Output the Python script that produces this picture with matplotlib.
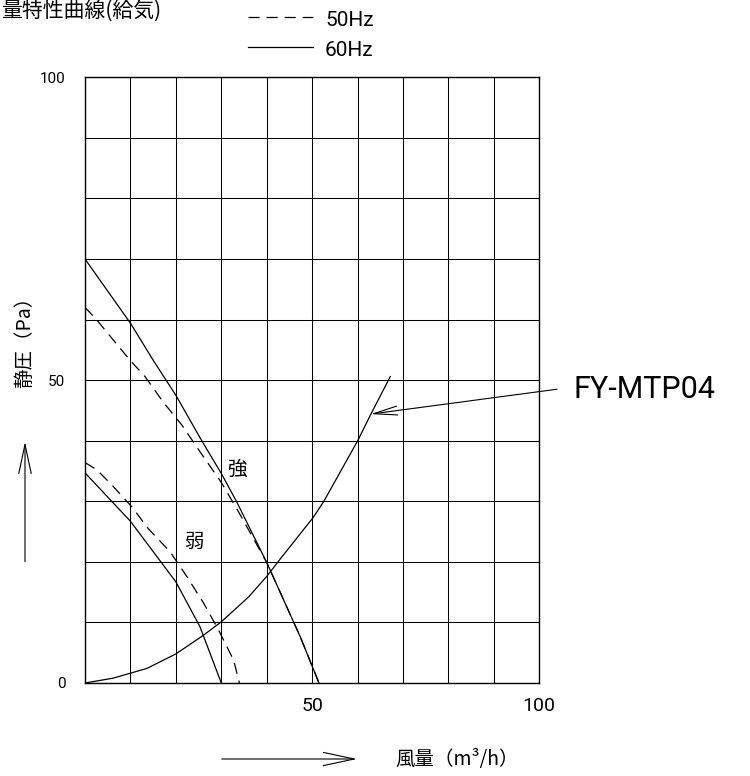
import numpy as np
import matplotlib
matplotlib.use("Agg")
import matplotlib.pyplot as plt

plt.rcParams['lines.scale_dashes'] = False
CJK = ['Noto Sans CJK JP', 'DejaVu Sans']
LAT = ['Roboto', 'DejaVu Sans']

# ---- data (風量 m3/h , 静圧 Pa) ----
q_strong_60 = [0, 10, 15, 20, 25.7, 30, 33.4, 40, 47.4, 51.5]
p_strong_60 = [70, 59.4, 53.3, 47.5, 40, 34.6, 29.9, 19.9, 7.6, 0]

q_strong_50 = [0, 2.3, 9.9, 13.2, 17.2, 21.3, 25.3, 30.1, 34.0, 40, 47.4, 51.5]
p_strong_50 = [62, 60.2, 53.3, 50.6, 46.4, 42.6, 38.2, 33.0, 28.0, 19.9, 7.6, 0]

q_weak_60 = [0, 10, 14.7, 20, 25.3, 30]
p_weak_60 = [34.7, 26.7, 22, 16.7, 9.3, 0]

q_weak_50 = [0, 2.6, 5.9, 10.3, 13.9, 18.7, 22.4, 26.1, 29.4, 32.7, 34]
p_weak_50 = [36.4, 35.2, 32.7, 29.1, 25.5, 21.7, 17.6, 13.2, 8.75, 3.8, 0]

q_system = [0, 6.2, 13.6, 20, 26.1, 30, 36, 40, 43, 50.1, 52.5, 60.1, 62.8, 67.2]
p_system = [0, 0.8, 2.4, 4.8, 7.9, 10.1, 14.2, 17.6, 20.5, 27.2, 29.9, 40.1, 44.2, 50.6]

grid_ticks = list(range(0, 101, 10))
x_labeled = [50, 100]
y_labeled = [0, 50, 100]

W, H = 750, 776
fig = plt.figure(figsize=(W / 100, H / 100), dpi=100)
ax = fig.add_axes([85 / W, 1 - 683 / H, (539.3 - 85) / W, (683 - 77.3) / H])
ax.set_xlim(0, 100)
ax.set_ylim(0, 100)

ax.set_xticks(grid_ticks)
ax.set_yticks(grid_ticks)
ax.set_xticklabels([str(v) if v in x_labeled else '' for v in grid_ticks],
                   family=LAT, fontsize=14)
ax.set_yticklabels([str(v) if v in y_labeled else '' for v in grid_ticks],
                   family=LAT, fontsize=11)
ax.tick_params(axis='both', length=0)
ax.tick_params(axis='x', pad=10)
ax.tick_params(axis='y', pad=14)
ax.grid(True, color='black', lw=0.75)
for s in ax.spines.values():
    s.set_linewidth(1.0)
    s.set_color('black')

dash = (0, (8, 5))
lw = 0.9
ax.plot(q_strong_60, p_strong_60, color='black', lw=lw)
ax.plot(q_strong_50, p_strong_50, color='black', lw=lw, linestyle=dash)
ax.plot(q_weak_60, p_weak_60, color='black', lw=lw)
ax.plot(q_weak_50, p_weak_50, color='black', lw=lw, linestyle=dash)
ax.plot(q_system, p_system, color='black', lw=lw)

ax.text(33.5, 35.2, '強', family=CJK, fontsize=14, ha='center', va='center')
ax.text(24, 23.4, '弱', family=CJK, fontsize=14, ha='center', va='center')

# FY-MTP04 pointer
ax.annotate('', xy=(62.9, 44.4), xytext=(103.9, 48.5),
            arrowprops=dict(arrowstyle='->, head_length=1.7, head_width=0.32',
                            lw=0.8, color='black', shrinkA=0, shrinkB=0,
                            mutation_scale=10),
            annotation_clip=False)
ax.text(107.5, 48.4, 'FY-MTP04', family=LAT, fontsize=22,
        ha='left', va='center', clip_on=False)

# axis labels with arrows (figure pixels converted to fractions)
def fx(px):
    return px / W

def fy(py):
    return 1 - py / H

fig.text(fx(25), fy(337), '静圧（Pa）', family=CJK, fontsize=14, rotation=90,
         ha='center', va='center')
fig.patches.append(matplotlib.patches.FancyArrowPatch(
    (fx(25), fy(561.7)), (fx(25), fy(441.7)), transform=fig.transFigure,
    arrowstyle='->, head_length=1.5, head_width=0.32', mutation_scale=14,
    lw=0.8, color='black', shrinkA=0, shrinkB=0))

fig.text(fx(395), fy(760), '風量（m³/h）', family=CJK, fontsize=14,
         ha='left', va='center')
fig.patches.append(matplotlib.patches.FancyArrowPatch(
    (fx(221.7), fy(759)), (fx(357), fy(759)), transform=fig.transFigure,
    arrowstyle='->, head_length=1.6, head_width=0.34', mutation_scale=14,
    lw=0.8, color='black', shrinkA=0, shrinkB=0))

# title
fig.text(fx(1), fy(0), '量特性曲線(給気)', family=CJK, fontsize=15,
         ha='left', va='top')

# legend
fig.add_artist(matplotlib.lines.Line2D([fx(248), fx(313)], [fy(17), fy(17)],
                                       color='black', lw=0.9, linestyle=dash,
                                       transform=fig.transFigure))
fig.add_artist(matplotlib.lines.Line2D([fx(248), fx(313)], [fy(47), fy(47)],
                                       color='black', lw=0.9,
                                       transform=fig.transFigure))
fig.text(fx(325), fy(20), '50Hz', family=LAT, fontsize=15,
         ha='left', va='center')
fig.text(fx(325), fy(50), '60Hz', family=LAT, fontsize=15,
         ha='left', va='center')

fig.savefig('out.png', dpi=100)
